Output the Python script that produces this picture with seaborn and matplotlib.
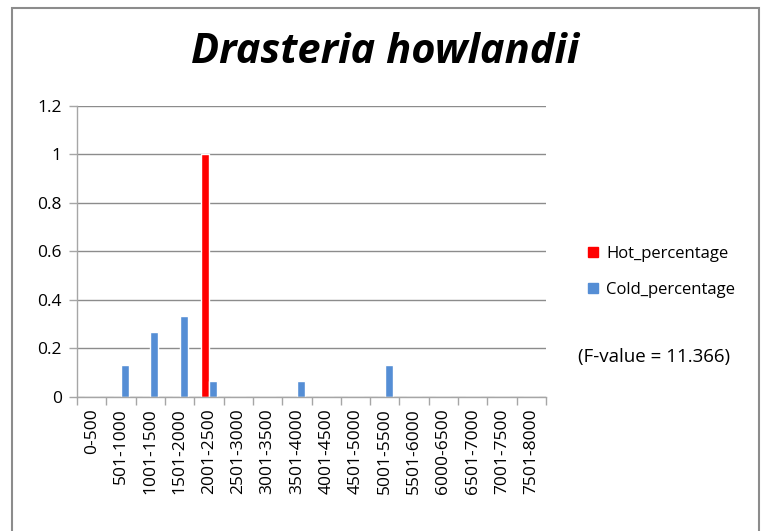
import matplotlib
matplotlib.use("Agg")
import matplotlib.pyplot as plt
import matplotlib.patches as mpatches
import seaborn as sns
import pandas as pd

# ── Data ─────────────────────────────────────────────────────────────────────
ranges = ["0-500", "501-1000", "1001-1500", "1501-2000", "2001-2500", "2501-3000",
          "3001-3500", "3501-4000", "4001-4500", "4501-5000", "5001-5500", "5501-6000",
          "6000-6500", "6501-7000", "7001-7500", "7501-8000"]
hot_percentage = [0, 0, 0, 0, 1, 0, 0, 0, 0, 0, 0, 0, 0, 0, 0, 0]
cold_percentage = [0, 0.1333, 0.2667, 0.3333, 0.0667, 0, 0, 0.0667, 0, 0, 0.1333, 0,
                   0, 0, 0, 0]
series_names = ["Hot_percentage", "Cold_percentage"]
series_colors = ["#FF0000", "#558ED5"]
f_value_text = "(F-value = 11.366)"
title = "Drasteria howlandii"

df = pd.DataFrame({"range": ranges * 2,
                   "value": hot_percentage + cold_percentage,
                   "series": [series_names[0]] * len(ranges) + [series_names[1]] * len(ranges)})

# ── Style ────────────────────────────────────────────────────────────────────
sns.set_theme(style="white")
plt.rcParams["font.family"] = ["Open Sans", "DejaVu Sans"]
plt.rcParams["text.color"] = "#000000"

fig = plt.figure(figsize=(7.64, 5.31), dpi=100)
ax = fig.add_axes([0.1008, 0.2524, 0.6139, 0.548])

sns.barplot(data=df, x="range", y="value", hue="series", order=ranges,
            hue_order=series_names, palette=series_colors, width=0.55,
            saturation=1, ax=ax, legend=False)

ax.set_ylim(0, 1.2)
ax.set_xlim(-0.5, len(ranges) - 0.5)
ax.set_yticks([0, 0.2, 0.4, 0.6, 0.8, 1.0, 1.2])
ax.set_yticklabels(["0", "0.2", "0.4", "0.6", "0.8", "1", "1.2"])
ax.yaxis.grid(True, color="#8C8C8C", linewidth=1)
ax.set_axisbelow(True)
ax.set_xlabel("")
ax.set_ylabel("")

for side in ["top", "right"]:
    ax.spines[side].set_visible(False)
for side in ["left", "bottom"]:
    ax.spines[side].set_color("#A6A6A6")
    ax.spines[side].set_linewidth(1)

ax.tick_params(axis="y", length=6, color="#A6A6A6", width=1, labelsize=12.5,
               labelcolor="#000000", pad=5, direction="out", left=True)
ax.set_xticks(range(len(ranges)))
ax.set_xticklabels(ranges, rotation=90, fontsize=12.5, color="#000000")
ax.set_xticks([i - 0.5 for i in range(len(ranges) + 1)], minor=True)
ax.tick_params(axis="x", which="major", length=0, pad=8)
ax.tick_params(axis="x", which="minor", length=6, color="#A6A6A6", width=1,
               bottom=True, direction="out")

fig.text(0.504, 0.902, title, ha="center", va="center", fontsize=30,
         fontstyle="italic", fontweight="bold", color="#000000")

handles = [mpatches.Patch(color=c, label=n) for c, n in zip(series_colors, series_names)]
fig.legend(handles=handles, loc="center left", bbox_to_anchor=(0.75, 0.488),
           frameon=False, fontsize=12, handlelength=0.6, handleheight=0.6,
           handletextpad=0.5, labelspacing=1.2, labelcolor="#000000")

fig.text(0.757, 0.327, f_value_text, ha="left", va="center", fontsize=13.5,
         color="#000000")

border = mpatches.Rectangle((12 / 764, -0.05), (759 - 12) / 764, 1.05 - 8 / 531,
                            transform=fig.transFigure, fill=False,
                            edgecolor="#8C8C8C", linewidth=1.5)
fig.patches.append(border)

fig.savefig("out.png", dpi=100)
plt.close()
